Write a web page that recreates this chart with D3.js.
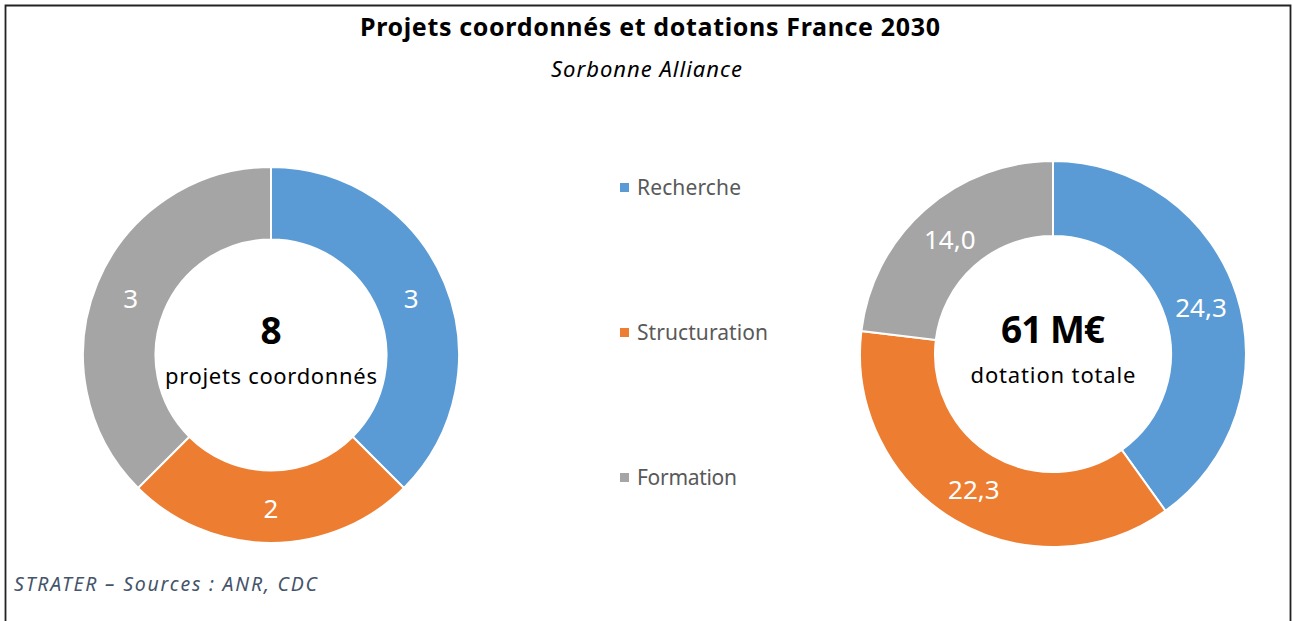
<!DOCTYPE html>
<html>
<head>
<meta charset="utf-8">
<script src="https://cdn.jsdelivr.net/npm/d3@7"></script>
<style>
  html, body { margin: 0; padding: 0; background: #fff; }
  svg { display: block; }
  text { font-family: "Noto Sans", "Open Sans", sans-serif; }
</style>
</head>
<body>
<svg id="chart" width="1293" height="621"></svg>
<script>
// Categories shared by both donuts
const categories = ["Recherche", "Structuration", "Formation"];
const colors = ["#5B9BD5", "#ED7D31", "#A5A5A5"];

// Number of coordinated projects per category
const projectCounts = [3, 2, 3];
// Funding per category (M€)
const fundingAmounts = [24.3, 22.3, 14.0];

const title = "Projets coordonnés et dotations France 2030";
const subtitle = "Sorbonne Alliance";
const source = "STRATER – Sources : ANR, CDC";

const frFmt = v => v.toFixed(1).replace(".", ",");

const svg = d3.select("#chart");

// frame (bottom edge falls outside the canvas)
svg.append("path")
  .attr("d", "M5.5,640 V5.5 H1290.5 V640")
  .attr("fill", "none")
  .attr("stroke", "#222")
  .attr("stroke-width", 1.8);

// helper: text stretched to a given width
function label(parent, x, y, str, size, opts = {}) {
  const t = parent.append("text")
    .attr("x", x).attr("y", y)
    .attr("font-size", size)
    .attr("text-anchor", opts.anchor || "start")
    .attr("fill", opts.fill || "#000")
    .text(str);
  if (opts.weight) t.attr("font-weight", opts.weight);
  if (opts.italic) t.attr("font-style", "italic");
  if (opts.width) t.attr("textLength", opts.width).attr("lengthAdjust", "spacing");
  if (opts.dy) t.attr("dy", opts.dy);
  return t;
}

label(svg, 650, 36, title, 25, { anchor: "middle", weight: 700, width: 580 });
label(svg, 646.5, 77, subtitle, 22, { anchor: "middle", italic: true, width: 191 });
label(svg, 14, 591, source, 19.5, { italic: true, fill: "#44546A", width: 303 });

const color = d3.scaleOrdinal().domain(categories).range(colors);
const pie = d3.pie().sort(null).value(d => d.value);

function donut(cx, cy, rOuter, rInner, values, fmt, bigText, bigW, smallText, smallW) {
  const g = svg.append("g").attr("transform", `translate(${cx},${cy})`);
  const data = categories.map((c, i) => ({ cat: c, value: values[i] }));
  const arcs = pie(data);
  const arc = d3.arc().innerRadius(rInner).outerRadius(rOuter);
  const mid = (rInner + rOuter) / 2;
  const labelArc = d3.arc().innerRadius(mid).outerRadius(mid);

  g.selectAll("path.slice").data(arcs).join("path")
    .attr("class", "slice")
    .attr("d", arc)
    .attr("fill", d => color(d.data.cat))
    .attr("stroke", "#fff")
    .attr("stroke-width", 2);

  g.selectAll("text.val").data(arcs).join("text")
    .attr("class", "val")
    .attr("transform", d => `translate(${labelArc.centroid(d)})`)
    .attr("text-anchor", "middle")
    .attr("dy", "0.42em")
    .attr("font-size", 26)
    .attr("fill", "#fff")
    .text(d => fmt(d.data.value));

  label(g, 0, -11, bigText, 37, { anchor: "middle", weight: 700, width: bigW });
  label(g, 0, 29, smallText, 22, { anchor: "middle", width: smallW });
}

donut(271, 355, 188, 115.5, projectCounts, v => String(v),
      String(d3.sum(projectCounts)), null, "projets coordonnés", 212);
donut(1053, 354, 193, 118, fundingAmounts, frFmt,
      Math.round(d3.sum(fundingAmounts)) + " M€", 104, "dotation totale", 165);

// legend
const legendY = [195, 340, 485];
const legendW = [104, 131, 100];
const legend = svg.append("g");
categories.forEach((c, i) => {
  legend.append("rect")
    .attr("x", 620).attr("y", legendY[i] - 12)
    .attr("width", 9).attr("height", 9)
    .attr("fill", color(c));
  label(legend, 637, legendY[i], c, 21, { fill: "#595959", width: legendW[i] });
});
</script>
</body>
</html>
